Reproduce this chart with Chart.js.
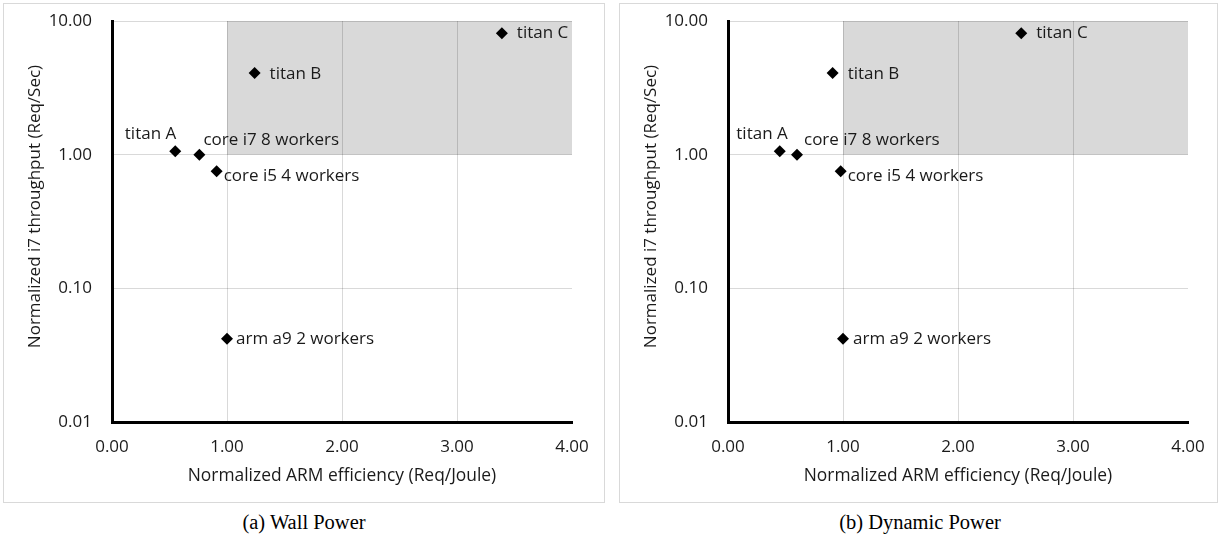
<!DOCTYPE html>
<html>
<head>
<meta charset="utf-8">
<script src="https://cdn.jsdelivr.net/npm/chart.js@4"></script>
<style>
    body { margin: 0; background: #fff; width: 1220px; height: 539px; position: relative; overflow: hidden; }
    .panel { position: absolute; top: 3px; height: 498px; border: 1px solid #d9d9d9; }
    .panel canvas { display: block; }
    .caption { position: absolute; top: 511px; width: 400px; text-align: center;
               font-family: "Liberation Serif", serif; font-size: 20.5px; color: #000; }
</style>
</head>
<body>
<div class="panel" style="left:3px; width:600px;"><canvas id="wallChart"></canvas></div>
<div class="panel" style="left:619px; width:597px;"><canvas id="dynChart"></canvas></div>
<div class="caption" style="left:104px;">(a) Wall Power</div>
<div class="caption" style="left:720px;">(b) Dynamic Power</div>

<script>
var systems = ['titan A', 'core i7 8 workers', 'core i5 4 workers', 'titan B', 'titan C', 'arm a9 2 workers'];

// Normalized i7 throughput (same for both panels)
var throughput = [1.06, 1.00, 0.75, 4.08, 8.1, 0.042];

// Normalized ARM efficiency
var wallEfficiency = [0.55, 0.76, 0.91, 1.24, 3.39, 1.00];
var dynamicEfficiency = [0.45, 0.60, 0.98, 0.91, 2.55, 1.00];

var xTicks = [0, 1, 2, 3, 4];
var yTicks = [0.01, 0.1, 1, 10];

// shaded "better" region: efficiency 1..4, throughput 1..10
var shadeX = [1, 4];
var shadeY = [1, 10];

var xTitle = 'Normalized ARM efficiency (Req/Joule)';
var yTitle = 'Normalized i7 throughput (Req/Sec)';

// label placement per point: [dx, dy, align]
var wallLabelPos = [[1, -17, 'right'], [4, -15, 'left'], [7, 5, 'left'], [15, 1, 'left'], [15, 0, 'left'], [9, 0, 'left']];
var dynLabelPos = [[8, -17, 'right'], [7, -15, 'left'], [7, 5, 'left'], [15, 1, 'left'], [15, 0, 'left'], [10, 0, 'left']];

var FONT = '"Open Sans", sans-serif';
var TEXT = '#1a1a1a';

var shadePlugin = {
    id: 'shade',
    beforeDraw: function(chart) {
        var ctx = chart.ctx, x = chart.scales.x, y = chart.scales.y;
        var x0 = x.getPixelForValue(shadeX[0]), x1 = x.getPixelForValue(shadeX[1]);
        var y0 = y.getPixelForValue(shadeY[1]), y1 = y.getPixelForValue(shadeY[0]);
        ctx.save();
        ctx.fillStyle = '#d9d9d9';
        ctx.fillRect(x0, y0, x1 - x0, y1 - y0);
        ctx.restore();
    }
};

var labelPlugin = {
    id: 'pointLabels',
    afterDatasetsDraw: function(chart) {
        var ctx = chart.ctx;
        var pos = chart.options.plugins.pointLabels.pos;
        var meta = chart.getDatasetMeta(0);
        ctx.save();
        ctx.font = '17px ' + FONT;
        ctx.fillStyle = TEXT;
        ctx.textBaseline = 'middle';
        meta.data.forEach(function(pt, i) {
            ctx.textAlign = pos[i][2];
            ctx.fillText(systems[i], pt.x + pos[i][0], pt.y + pos[i][1]);
        });
        // y axis title, sits a bit above the centre of the plot
        var area = chart.chartArea;
        ctx.translate(31, (area.top + area.bottom) / 2 - 15);
        ctx.rotate(-Math.PI / 2);
        ctx.textAlign = 'center';
        ctx.fillText(yTitle, 0, 0);
        ctx.restore();
    }
};

function makeChart(id, efficiency, labelPos, padRight) {
    var points = efficiency.map(function(e, i) { return { x: e, y: throughput[i] }; });
    return new Chart(document.getElementById(id), {
        type: 'scatter',
        data: {
            datasets: [{
                data: points,
                pointStyle: 'rectRot',
                pointRadius: 6,
                pointHoverRadius: 6,
                backgroundColor: '#000',
                borderWidth: 0
            }]
        },
        options: {
            responsive: false,
            animation: false,
            events: [],
            layout: { padding: { top: 17, right: padRight, left: 0, bottom: 0 } },
            plugins: {
                legend: { display: false },
                tooltip: { enabled: false },
                pointLabels: { pos: labelPos }
            },
            scales: {
                x: {
                    type: 'linear',
                    min: 0,
                    max: 4,
                    afterBuildTicks: function(scale) {
                        scale.ticks = xTicks.map(function(v) { return { value: v }; });
                    },
                    afterFit: function(scale) {
                        scale.height = 80;
                        scale.paddingLeft = 0;
                        scale.paddingRight = 0;
                    },
                    border: { color: '#000', width: 3 },
                    grid: {
                        drawTicks: false,
                        color: function(c) { return c.tick && c.tick.value === 4 ? 'rgba(0,0,0,0)' : 'rgba(0,0,0,0.15)'; }
                    },
                    ticks: {
                        padding: 15,
                        color: TEXT,
                        font: { family: FONT, size: 17 },
                        callback: function(v) { return Number(v).toFixed(2); }
                    },
                    title: {
                        display: true,
                        text: xTitle,
                        color: TEXT,
                        font: { family: FONT, size: 17.4 },
                        padding: { top: 0, bottom: 16 }
                    }
                },
                y: {
                    type: 'logarithmic',
                    min: 0.01,
                    max: 10,
                    afterBuildTicks: function(scale) {
                        scale.ticks = yTicks.map(function(v) { return { value: v }; });
                    },
                    afterFit: function(scale) {
                        scale.width = 108;
                        scale.paddingTop = 0;
                        scale.paddingBottom = 0;
                    },
                    border: { color: '#000', width: 3 },
                    grid: { drawTicks: false, color: 'rgba(0,0,0,0.15)' },
                    ticks: {
                        padding: 20,
                        color: TEXT,
                        font: { family: FONT, size: 17 },
                        callback: function(v) { return Number(v).toFixed(2); }
                    }
                }
            }
        },
        plugins: [shadePlugin, labelPlugin]
    });
}

document.getElementById('wallChart').width = 600;
document.getElementById('wallChart').height = 498;
document.getElementById('dynChart').width = 597;
document.getElementById('dynChart').height = 498;

makeChart('wallChart', wallEfficiency, wallLabelPos, 32);
makeChart('dynChart', dynamicEfficiency, dynLabelPos, 29);
</script>
</body>
</html>
